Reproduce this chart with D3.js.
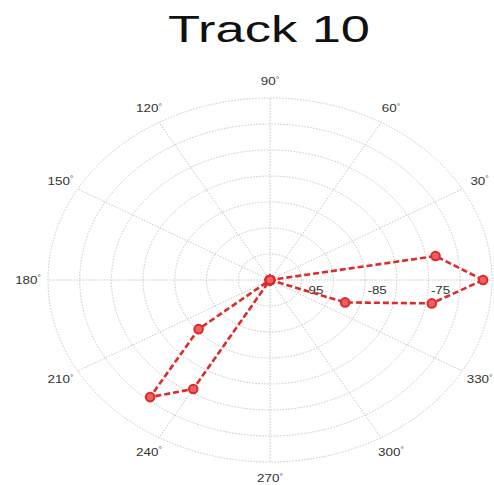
<!DOCTYPE html>
<html>
<head>
<meta charset="utf-8">
<script src="https://cdn.jsdelivr.net/npm/d3@7"></script>
<style>
  html, body { margin: 0; padding: 0; background: #fff; }
  svg { display: block; }
  text { font-family: "Liberation Sans", Arial, Helvetica, sans-serif; }
</style>
</head>
<body>
<svg id="chart" width="494" height="485"></svg>
<script>
// Bearing (degrees) of each sample
const angles = d3.range(0, 360, 10);
// Received level at each bearing; -100 is the floor of the radial axis
const levels = [
  -66.4, -73.5, -100, -100, -100, -100, -100, -100, -100, -100,
  -100, -100, -100, -100, -100, -100, -100, -100, -100, -100,
  -100, -100, -85.3, -70.6, -75.8, -100, -100, -100, -100, -100,
  -100, -100, -100, -100, -87.4, -74.1
];
// Radial grid rings and the rings that carry a label
const ringValues = [-95, -90, -85, -80, -75, -70, -65];
const ringLabels = [-95, -85, -75];
// Spokes every 30 degrees
const spokeAngles = d3.range(0, 360, 30);
const titleText = "Track 10";

const svg = d3.select("#chart");
const W = 494;
const cx = 270, cy = 280;      // plot centre
const rx = 222, ry = 182;      // outer ring half-widths (horizontal, vertical)
const stretch = 1.22;          // horizontal text stretch of the figure

const rScale = d3.scaleLinear().domain([-100, -65]).range([0, 1]).clamp(true);
const px = (a, v) => cx + rScale(v) * rx * Math.cos(a * Math.PI / 180);
const py = (a, v) => cy - rScale(v) * ry * Math.sin(a * Math.PI / 180);

// Title
svg.append("text")
  .attr("x", 269).attr("y", 42)
  .attr("text-anchor", "middle")
  .attr("font-size", 37)
  .attr("fill", "#111")
  .attr("textLength", 202)
  .attr("lengthAdjust", "spacingAndGlyphs")
  .text(titleText);

const grid = svg.append("g")
  .attr("fill", "none")
  .attr("stroke", "#c4c4c4")
  .attr("stroke-width", 1)
  .attr("stroke-dasharray", "1.5,1.5");

// Rings
grid.selectAll("ellipse").data(ringValues).join("ellipse")
  .attr("cx", cx).attr("cy", cy)
  .attr("rx", d => rScale(d) * rx)
  .attr("ry", d => rScale(d) * ry);

// Spokes
grid.selectAll("line").data(spokeAngles).join("line")
  .attr("x1", cx).attr("y1", cy)
  .attr("x2", d => px(d, -65))
  .attr("y2", d => py(d, -65));

// Angle labels just outside the outer ring (those that fit inside the figure)
const labPos = d => {
  const a = d * Math.PI / 180;
  return [cx + 1.09 * rx * Math.cos(a), cy - 1.09 * ry * Math.sin(a)];
};
const angLab = svg.append("g").attr("fill", "#333").attr("font-size", 11);
angLab.selectAll("text").data(spokeAngles.filter(d => labPos(d)[0] < W - 12)).join("text")
  .attr("transform", d => `translate(${labPos(d)[0]},${labPos(d)[1]}) scale(${stretch},1)`)
  .attr("text-anchor", "middle")
  .attr("dy", "0.35em")
  .each(function (d) {
    const t = d3.select(this);
    t.append("tspan").text(d);
    t.append("tspan").attr("font-size", 7).attr("dy", "-0.5em").text("°");
  });

// Radial labels along the 0° spoke
svg.append("g").attr("fill", "#333").attr("font-size", 11)
  .selectAll("text").data(ringLabels).join("text")
  .attr("transform", d => `translate(${px(0, d) + 12},${cy + 14}) scale(${stretch},1)`)
  .attr("text-anchor", "middle")
  .text(d => d);

// Closed trace of levels against bearing
const pts = angles.map((a, i) => [a, levels[i]]);
const line = d3.line().x(d => px(d[0], d[1])).y(d => py(d[0], d[1]));
svg.append("path")
  .datum(pts.concat([pts[0]]))
  .attr("d", line)
  .attr("fill", "none")
  .attr("stroke", "#dd2a2a")
  .attr("stroke-width", 2.6)
  .attr("stroke-dasharray", "6,3");

svg.append("g").selectAll("circle").data(pts).join("circle")
  .attr("cx", d => px(d[0], d[1]))
  .attr("cy", d => py(d[0], d[1]))
  .attr("r", 4.3)
  .attr("fill", "#ec6060")
  .attr("stroke", "#dd2a2a")
  .attr("stroke-width", 2);
</script>
</body>
</html>
